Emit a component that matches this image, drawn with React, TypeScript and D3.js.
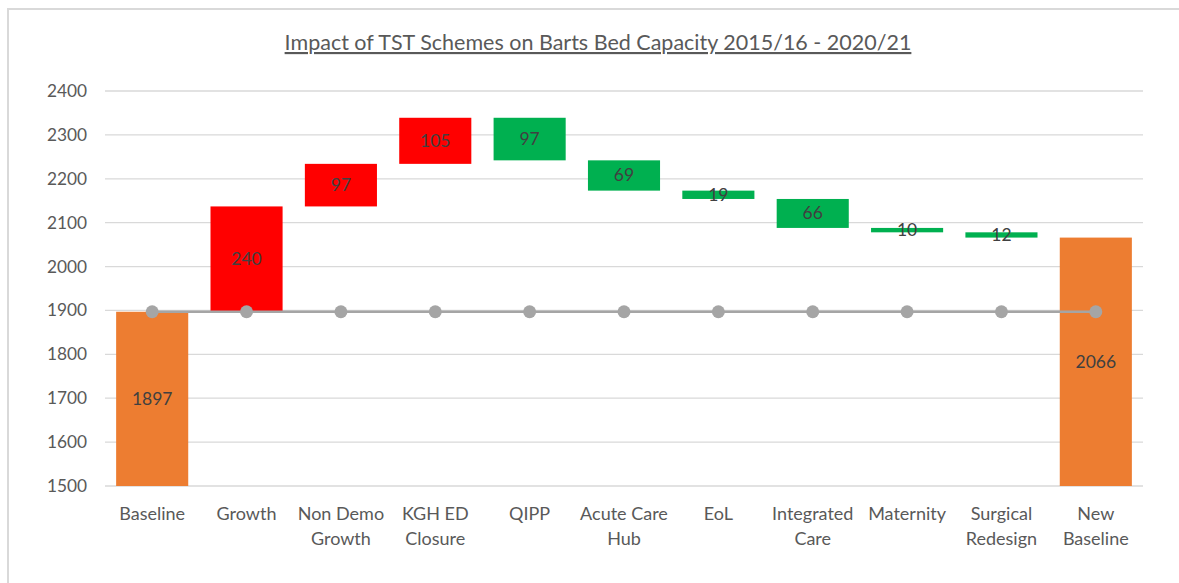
import React from 'react';
import { scaleBand, scaleLinear } from 'd3';

const categories = ['Baseline', 'Growth', 'Non Demo Growth', 'KGH ED Closure', 'QIPP', 'Acute Care Hub', 'EoL', 'Integrated Care', 'Maternity', 'Surgical Redesign', 'New Baseline'];
const labelLines = [['Baseline'], ['Growth'], ['Non Demo', 'Growth'], ['KGH ED', 'Closure'], ['QIPP'], ['Acute Care', 'Hub'], ['EoL'], ['Integrated', 'Care'], ['Maternity'], ['Surgical', 'Redesign'], ['New', 'Baseline']];
const changes = [1897, 240, 97, 105, -97, -69, -19, -66, -10, -12, 2066];
const kinds = ['total', 'up', 'up', 'up', 'down', 'down', 'down', 'down', 'down', 'down', 'total'];
const baselineLine = 1897;
const yTicks = [1500, 1600, 1700, 1800, 1900, 2000, 2100, 2200, 2300, 2400];

const width = 1179;
const height = 583;
const left = 105;
const right = 1143;
const top = 91;
const bottom = 486;
const font = 'Lato, "Open Sans", sans-serif';

const colors = { total: '#ED7D31', up: '#FF0000', down: '#00B050' };

const App = () => {
  const x = scaleBand().domain(categories).range([left, right]).paddingInner(0.236).paddingOuter(0.118);
  const y = scaleLinear().domain([1500, 2400]).range([bottom, top]);

  // running total for the floating bars
  let running = 0;
  const bars = categories.map((c, i) => {
    let lo, hi;
    if (kinds[i] === 'total') {
      lo = 1500;
      hi = changes[i];
      running = changes[i];
    } else {
      const next = running + changes[i];
      lo = Math.min(running, next);
      hi = Math.max(running, next);
      running = next;
    }
    return { c, lo, hi, label: kinds[i] === 'total' ? changes[i] : Math.abs(changes[i]), kind: kinds[i] };
  });

  const mid = c => x(c) + x.bandwidth() / 2;

  return (
    <svg width={width} height={height} style={{ position: 'absolute', left: 0, top: 0, display: 'block', background: '#fff' }}>
      <rect x={8} y={9} width={1300} height={700} fill="#fff" stroke="#D9D9D9" strokeWidth={2} />
      <text x={598} y={50} textAnchor="middle" fontFamily={font} fontSize={21.5} fill="#595959" textDecoration="underline">
        Impact of TST Schemes on Barts Bed Capacity 2015/16 - 2020/21
      </text>
      {yTicks.map(t => (
        <g key={t}>
          <line x1={left} x2={right} y1={y(t)} y2={y(t)} stroke="#D9D9D9" strokeWidth={1.3} />
          <text x={87} y={y(t) + 6} textAnchor="end" fontFamily={font} fontSize={17.3} fill="#595959">{t}</text>
        </g>
      ))}
      {bars.map(b => (
        <rect key={b.c} x={x(b.c)} y={y(b.hi)} width={x.bandwidth()} height={y(b.lo) - y(b.hi)} fill={colors[b.kind]} />
      ))}
      <line x1={mid(categories[0])} x2={mid(categories[categories.length - 1])}
        y1={y(baselineLine)} y2={y(baselineLine)} stroke="#A5A5A5" strokeWidth={2.5} />
      {categories.map(c => (
        <circle key={c} cx={mid(c)} cy={y(baselineLine)} r={6.5} fill="#A5A5A5" />
      ))}
      {bars.map(b => (
        <text key={b.c} x={mid(b.c)} y={y((b.lo + b.hi) / 2) + 6} textAnchor="middle" fontFamily={font} fontSize={17.5} fill="#404040">{b.label}</text>
      ))}
      {categories.map((c, i) => (
        <text key={c} x={mid(c)} y={520} textAnchor="middle" fontFamily={font} fontSize={18} fill="#595959">
          {labelLines[i].map((l, j) => (
            <tspan key={j} x={mid(c)} dy={j === 0 ? 0 : 25}>{l}</tspan>
          ))}
        </text>
      ))}
    </svg>
  );
};

export default App;
